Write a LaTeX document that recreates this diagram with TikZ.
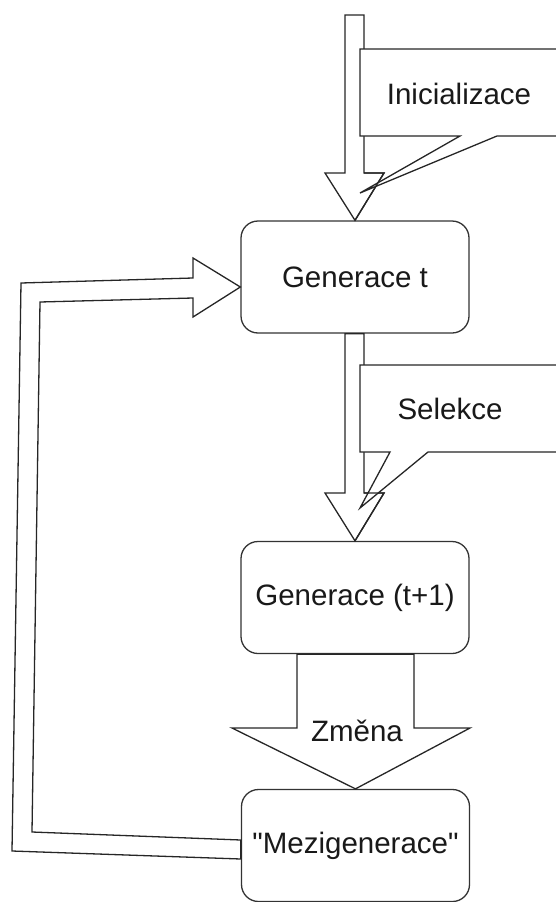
\documentclass[tikz,border=0pt]{standalone}
\usepackage{fontspec}
\setmainfont{Liberation Sans}[Ligatures=TeXOff]
\usetikzlibrary{calc}
\begin{document}
\begin{tikzpicture}[x=1pt,y=-1pt,
  every node/.style={font=\fontsize{29.5}{34}\selectfont, text=black!90},
  genbox/.style={draw=black!80, line width=1.3pt, rounded corners=17pt, fill=white,
    minimum width=228pt, minimum height=112pt, inner sep=0pt},
  blockarrow/.style={draw=black!85, line width=1.3pt, fill=white, line join=miter},
  callout/.style={draw=black!85, line width=1.3pt, fill=white, line join=miter}]
\useasboundingbox (0,0) rectangle (556,902);

% boxes
\node[genbox] (g1) at (355,277) {Generace t};
\node[genbox] (g2) at (355,597.5) {Generace (t+1)};
\node[genbox] (g3) at (355.5,845.5) {"Mezigenerace"};

% Inicializace arrow
\draw[blockarrow] (345,15) -- (364,15) -- (364,173) -- (384,173) -- (g1.north)
  -- (325,173) -- (345,173) -- cycle;
\draw[callout] (360,49) -- (560,49) -- (560,136) -- (497,136) -- (360,193)
  -- (460,136) -- (360,136) -- cycle;
\draw[black!85, line width=1.3pt] (364,173) -- (384,173) -- (g1.north);
\node (ini) at (459,94) {Inicializace};

% Selekce arrow
\draw[blockarrow] (g1.south -| 345,0) -- (g1.south -| 364,0) -- (364,493) -- (384,493)
  -- (g2.north) -- (325,493) -- (345,493) -- cycle;
\draw[callout] (360,365) -- (560,365) -- (560,452) -- (428,452) -- (360,508)
  -- (390,452) -- (360,452) -- cycle;
\draw[black!85, line width=1.3pt] (364,493) -- (384,493) -- (g2.north);
\node (sel) at (450,409) {Selekce};

% Zmena arrow
\draw[blockarrow] (g2.south -| 297,0) -- (g2.south -| 414,0) -- (414,728) -- (470,728)
  -- (g3.north) -- (232,728) -- (297,728) -- cycle;
\node (zm) at (357,731) {Změna};

% feedback arrow
\draw[blockarrow] (g3.west |- 0,859) -- (12,851) -- (21,283) -- (193,278) -- (193,258)
  -- (g1.west |- 0,287) -- (193,317) -- (193,298) -- (40,302) -- (32,832)
  -- (g3.west |- 0,840) -- cycle;
\end{tikzpicture}
\end{document}
